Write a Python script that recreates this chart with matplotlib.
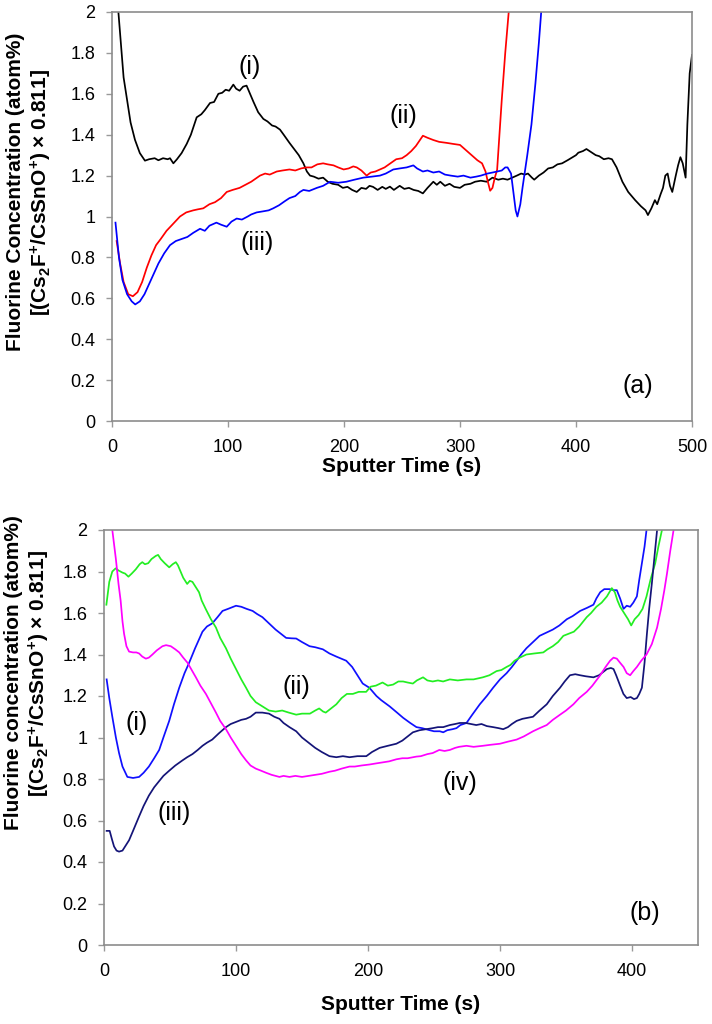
import matplotlib
matplotlib.use("Agg")
import matplotlib.pyplot as plt
from matplotlib.ticker import FuncFormatter, MultipleLocator

plt.rcParams['font.family'] = ['Liberation Sans', 'DejaVu Sans']
plt.rcParams['mathtext.fontset'] = 'custom'
plt.rcParams['mathtext.rm'] = 'Liberation Sans'
plt.rcParams['mathtext.bf'] = 'Liberation Sans:bold'
plt.rcParams['mathtext.it'] = 'Liberation Sans:italic'

# ---------------- Panel (a) data ----------------
a1_x = [3, 5.5, 8, 10, 12.6, 16, 19.8, 24, 28.4, 32, 36.8, 40, 44, 48, 50, 52.9, 56, 60, 64.4, 68, 73, 77, 80,
        84.5, 88, 91.7, 95, 98, 101, 104.6, 107, 110, 113, 116, 119, 122, 126, 130.5, 134, 138, 141, 144.8, 148,
        153, 157, 161, 165, 168, 170.7, 174, 178, 182, 186, 190, 195, 199, 203, 207, 211, 215, 219, 222, 225,
        229, 233, 236, 239.6, 243, 248, 252, 256, 260, 264, 268, 272, 277, 280, 283, 287, 291, 295, 300, 304,
        309, 313, 318, 323, 328, 333, 337, 341, 345, 349, 352.7, 356, 358.6, 362, 364, 368, 372, 376, 380, 384,
        388, 393, 397, 400, 402, 406, 409, 413, 417, 420, 424, 428, 431, 435, 440, 445, 451, 456, 460, 462, 465,
        468, 470, 473, 475, 477, 479, 481, 483, 486, 488, 490, 492, 494.5, 496, 498, 500]
a1_y = [2.25, 2.0, 1.82, 1.68, 1.585, 1.46, 1.375, 1.31, 1.273, 1.28, 1.285, 1.275, 1.285, 1.28, 1.285, 1.26,
        1.28, 1.31, 1.355, 1.40, 1.485, 1.50, 1.52, 1.555, 1.56, 1.60, 1.605, 1.62, 1.615, 1.645, 1.625, 1.615,
        1.635, 1.64, 1.60, 1.56, 1.51, 1.477, 1.465, 1.445, 1.44, 1.425, 1.40, 1.36, 1.33, 1.30, 1.26, 1.22, 1.20,
        1.195, 1.185, 1.19, 1.17, 1.16, 1.155, 1.14, 1.145, 1.13, 1.12, 1.14, 1.135, 1.15, 1.145, 1.13, 1.145,
        1.135, 1.146, 1.13, 1.15, 1.135, 1.14, 1.13, 1.125, 1.113, 1.14, 1.17, 1.155, 1.17, 1.15, 1.16, 1.145,
        1.14, 1.155, 1.16, 1.17, 1.175, 1.17, 1.19, 1.18, 1.185, 1.18, 1.19, 1.20, 1.21, 1.205, 1.21, 1.19, 1.18,
        1.20, 1.215, 1.235, 1.24, 1.255, 1.26, 1.276, 1.29, 1.30, 1.312, 1.32, 1.33, 1.315, 1.30, 1.295, 1.28,
        1.285, 1.28, 1.24, 1.17, 1.12, 1.08, 1.05, 1.03, 1.007, 1.04, 1.08, 1.06, 1.11, 1.14, 1.20, 1.21, 1.15,
        1.12, 1.20, 1.25, 1.29, 1.26, 1.19, 1.45, 1.70, 1.79]

a2_x = [4, 7, 10, 14, 18, 22, 26, 30, 34, 38, 42, 47, 52, 58.6, 64, 70, 74, 78.7, 84, 88.8, 94, 98.9, 104, 110,
        115, 120, 127.6, 132, 136, 142, 147, 153, 158, 163, 167.5, 172, 177, 182, 186, 191, 195, 199.7, 204, 208,
        211, 215, 219.5, 223, 227, 231, 235, 240, 245, 250, 254, 258, 262, 265, 268, 272, 277, 282, 288.5, 294,
        300, 305, 310, 315, 319, 322, 324, 326, 328, 330, 332, 334, 336, 339, 342, 344]
a2_y = [0.88, 0.77, 0.68, 0.62, 0.61, 0.63, 0.68, 0.75, 0.81, 0.86, 0.89, 0.93, 0.96, 1.0, 1.02, 1.03, 1.035,
        1.04, 1.06, 1.07, 1.09, 1.12, 1.13, 1.14, 1.155, 1.17, 1.20, 1.21, 1.205, 1.22, 1.225, 1.23, 1.225, 1.235,
        1.24, 1.24, 1.255, 1.26, 1.255, 1.25, 1.24, 1.23, 1.235, 1.245, 1.24, 1.225, 1.20, 1.215, 1.22, 1.23,
        1.24, 1.26, 1.28, 1.285, 1.30, 1.32, 1.345, 1.37, 1.395, 1.385, 1.374, 1.365, 1.36, 1.355, 1.35, 1.325,
        1.30, 1.275, 1.26, 1.22, 1.17, 1.126, 1.14, 1.19, 1.228, 1.40, 1.57, 1.80, 2.0, 2.2]

a3_x = [3, 6, 9, 13, 17, 20, 24, 28, 32, 36, 40, 45, 50, 55, 60, 65, 70, 75.9, 80, 84, 90, 94, 98.9, 103, 107.5,
        112, 117, 120, 124.7, 130, 135, 139, 144, 149, 153, 158, 162, 165, 170, 176.6, 182, 188, 195, 202, 209,
        216.6, 224, 231, 236, 242.5, 248, 254, 259.8, 263, 268, 272, 277, 282, 287, 292, 298, 303, 309, 314, 318,
        323.6, 328, 332, 336, 339, 341, 344, 346, 348, 349.5, 352, 354, 358, 361.6, 365, 368, 370, 372]
a3_y = [0.97, 0.80, 0.69, 0.62, 0.585, 0.57, 0.585, 0.62, 0.67, 0.72, 0.77, 0.82, 0.86, 0.88, 0.89, 0.90, 0.92,
        0.94, 0.93, 0.955, 0.97, 0.96, 0.95, 0.975, 0.99, 0.985, 1.0, 1.01, 1.02, 1.025, 1.03, 1.04, 1.055, 1.075,
        1.09, 1.10, 1.12, 1.13, 1.125, 1.14, 1.15, 1.17, 1.165, 1.17, 1.18, 1.19, 1.195, 1.20, 1.21, 1.23, 1.235,
        1.24, 1.25, 1.235, 1.22, 1.225, 1.215, 1.22, 1.205, 1.20, 1.195, 1.20, 1.19, 1.195, 1.20, 1.21, 1.215,
        1.22, 1.225, 1.24, 1.24, 1.21, 1.12, 1.03, 1.0, 1.06, 1.145, 1.30, 1.45, 1.65, 1.85, 2.0, 2.15]

# ---------------- Panel (b) data ----------------
b1_x = [2, 4, 6.3, 9, 11.4, 14, 17.7, 22, 26.6, 30, 34, 38, 41.8, 45, 49.4, 53, 57, 61, 64.5, 69, 74.6, 78, 82,
        86, 89.8, 94, 100, 104, 108, 112.6, 116, 120, 125, 130, 134, 138, 142, 145.6, 150, 155.7, 160, 165.8,
        170.8, 176, 183.5, 188, 192, 196, 201, 206.4, 210, 216.4, 222, 226.6, 232, 236.7, 241, 246.8, 250, 254.4,
        257, 260, 264, 267, 270, 274.6, 279, 284.7, 290, 294.8, 300, 305, 309, 312.6, 316, 320, 325, 330, 335,
        340, 345, 350.6, 355, 360.7, 366, 370.8, 373, 375.9, 379, 383, 386, 388.5, 391, 393.6, 396, 398.6, 401,
        403.7, 405.5, 407.5, 409.5, 411, 413]
b1_y = [1.28, 1.19, 1.10, 1.00, 0.925, 0.86, 0.81, 0.805, 0.81, 0.83, 0.86, 0.90, 0.94, 1.00, 1.08, 1.16, 1.24,
        1.31, 1.36, 1.43, 1.51, 1.535, 1.55, 1.58, 1.61, 1.62, 1.635, 1.63, 1.62, 1.61, 1.595, 1.58, 1.55, 1.52,
        1.50, 1.48, 1.478, 1.477, 1.46, 1.44, 1.435, 1.425, 1.405, 1.39, 1.37, 1.34, 1.30, 1.26, 1.24, 1.20, 1.18,
        1.15, 1.12, 1.095, 1.07, 1.05, 1.045, 1.035, 1.03, 1.03, 1.025, 1.035, 1.04, 1.045, 1.06, 1.07, 1.11,
        1.16, 1.20, 1.24, 1.28, 1.31, 1.34, 1.37, 1.40, 1.43, 1.46, 1.49, 1.505, 1.52, 1.54, 1.57, 1.585, 1.61,
        1.625, 1.64, 1.67, 1.70, 1.715, 1.715, 1.71, 1.71, 1.67, 1.62, 1.635, 1.63, 1.65, 1.68, 1.76, 1.84, 1.92,
        2.0, 2.1]

b2_x = [1.8, 4, 6.3, 8.8, 11, 13.9, 16, 18.5, 21, 24, 27, 29, 31, 33.5, 36, 39.2, 41, 43, 46, 49.4, 52, 54.4, 56,
        58, 60, 63, 65, 67, 69, 72, 74, 77, 81, 84.8, 88, 92.4, 96, 100, 104, 107.6, 111, 115, 120, 125, 130, 135,
        140, 145.6, 150, 156, 160, 163, 166, 168, 172, 176, 180, 184, 188.5, 193, 198.6, 202, 206, 211, 215, 219,
        223, 226.6, 230, 234, 237, 241.7, 245, 249, 253, 256.9, 262, 268, 274.6, 280, 287, 292, 297.4, 301, 305,
        308, 311, 315, 320, 326, 332.8, 336, 340, 344, 348, 352, 356, 360, 365.7, 369, 373, 377, 381, 384.7, 387,
        389, 391, 394, 397, 399.4, 402, 405, 408, 411, 414, 417.6, 420, 422.7, 425]
b2_y = [1.64, 1.75, 1.80, 1.815, 1.805, 1.795, 1.79, 1.775, 1.79, 1.81, 1.835, 1.845, 1.835, 1.84, 1.86, 1.875,
        1.88, 1.86, 1.84, 1.82, 1.835, 1.845, 1.83, 1.80, 1.77, 1.74, 1.755, 1.75, 1.73, 1.70, 1.66, 1.62, 1.57,
        1.53, 1.48, 1.43, 1.38, 1.33, 1.28, 1.24, 1.20, 1.17, 1.15, 1.13, 1.125, 1.13, 1.12, 1.11, 1.115, 1.115,
        1.13, 1.14, 1.125, 1.12, 1.14, 1.16, 1.19, 1.21, 1.21, 1.22, 1.22, 1.245, 1.25, 1.265, 1.25, 1.255, 1.27,
        1.27, 1.265, 1.26, 1.275, 1.29, 1.275, 1.27, 1.275, 1.27, 1.28, 1.275, 1.28, 1.28, 1.29, 1.30, 1.32, 1.325,
        1.34, 1.35, 1.37, 1.385, 1.40, 1.405, 1.41, 1.425, 1.44, 1.46, 1.49, 1.50, 1.51, 1.535, 1.58, 1.60, 1.63,
        1.65, 1.68, 1.72, 1.70, 1.66, 1.63, 1.60, 1.57, 1.54, 1.57, 1.59, 1.62, 1.68, 1.76, 1.84, 1.92, 2.0, 2.1]

b3_x = [2, 4.3, 6, 7.6, 9.5, 11.4, 14, 16.5, 19, 22, 26.6, 30, 34, 38, 41.8, 45, 49.4, 54, 59.5, 63, 67, 71, 74.6,
        78, 82, 87, 92.4, 96, 100, 104, 107.6, 111, 115, 120, 125, 129, 132.9, 136, 140.5, 145.6, 150, 155, 160,
        165, 170.8, 176, 181, 186, 192, 198.7, 203, 208.8, 215, 221.5, 226, 230, 234, 239, 244, 249, 253, 257, 262,
        266, 269.5, 274, 278, 282, 286, 290, 294.8, 299, 302.4, 306, 309, 312.6, 317, 321, 325, 330, 335.4, 340,
        345.5, 349, 353, 357, 360.7, 365, 370.8, 375, 378, 381, 384, 386, 388, 391, 393.5, 396, 399, 401.5, 403.7,
        405.5, 407.5, 409.5, 411.3, 413, 415, 417, 419, 421]
b3_y = [0.55, 0.55, 0.51, 0.475, 0.455, 0.45, 0.455, 0.48, 0.505, 0.55, 0.62, 0.67, 0.72, 0.76, 0.79, 0.815, 0.84,
        0.865, 0.89, 0.905, 0.92, 0.94, 0.96, 0.975, 0.99, 1.02, 1.05, 1.065, 1.075, 1.085, 1.09, 1.10, 1.12, 1.12,
        1.115, 1.10, 1.09, 1.07, 1.05, 1.03, 1.00, 0.975, 0.95, 0.93, 0.91, 0.905, 0.91, 0.905, 0.91, 0.91, 0.93,
        0.95, 0.96, 0.97, 0.985, 1.005, 1.025, 1.035, 1.04, 1.045, 1.05, 1.05, 1.06, 1.065, 1.07, 1.07, 1.065,
        1.06, 1.065, 1.055, 1.05, 1.045, 1.04, 1.05, 1.065, 1.08, 1.09, 1.095, 1.10, 1.13, 1.16, 1.20, 1.24, 1.27,
        1.30, 1.305, 1.30, 1.295, 1.29, 1.30, 1.315, 1.33, 1.335, 1.33, 1.30, 1.25, 1.21, 1.19, 1.195, 1.185,
        1.19, 1.21, 1.24, 1.36, 1.50, 1.62, 1.74, 1.87, 2.0, 2.12]

b4_x = [4, 6.3, 9, 11, 12.6, 14, 15.2, 17, 19, 22, 24.5, 26.6, 29, 31.7, 34, 36.7, 40, 44.3, 47, 50.6, 54, 57, 60,
        63.3, 66, 69.6, 73, 77.2, 81, 84.8, 88, 92.4, 96, 100, 104, 107.6, 111, 115, 119, 122.8, 127, 132.9, 136,
        140.5, 145, 150, 155, 160, 165, 170.8, 175, 180, 186, 190, 195, 201.3, 206, 211, 216, 221.5, 226, 230,
        236.7, 240, 245, 249, 254, 258, 262, 266, 269, 274.6, 280, 287, 293, 300, 306, 312.6, 318, 325, 330, 335.4,
        340, 345.5, 350, 355.6, 360, 365.7, 370, 375.9, 380, 383.4, 386, 388.5, 391, 393.6, 396, 398.6, 401, 403.7,
        407, 411, 415, 419, 422, 424.5, 426.5, 429, 431.5, 434]
b4_y = [2.2, 2.0, 1.86, 1.74, 1.66, 1.56, 1.50, 1.44, 1.414, 1.41, 1.41, 1.405, 1.39, 1.38, 1.385, 1.40, 1.42,
        1.44, 1.445, 1.44, 1.425, 1.41, 1.385, 1.36, 1.33, 1.29, 1.25, 1.21, 1.165, 1.12, 1.08, 1.04, 1.00, 0.96,
        0.92, 0.89, 0.865, 0.85, 0.84, 0.83, 0.82, 0.81, 0.815, 0.81, 0.815, 0.81, 0.815, 0.82, 0.825, 0.835, 0.84,
        0.85, 0.86, 0.86, 0.865, 0.87, 0.875, 0.88, 0.885, 0.895, 0.90, 0.90, 0.908, 0.91, 0.92, 0.925, 0.94,
        0.935, 0.94, 0.95, 0.955, 0.96, 0.955, 0.96, 0.965, 0.97, 0.98, 0.99, 1.005, 1.03, 1.045, 1.06, 1.085,
        1.11, 1.13, 1.16, 1.19, 1.22, 1.25, 1.30, 1.34, 1.37, 1.385, 1.38, 1.36, 1.34, 1.31, 1.30, 1.32, 1.34,
        1.37, 1.40, 1.45, 1.53, 1.62, 1.71, 1.79, 1.90, 2.0, 2.12]

yticks = [0, 0.2, 0.4, 0.6, 0.8, 1.0, 1.2, 1.4, 1.6, 1.8, 2.0]

W, H = 712, 1024
fig = plt.figure(figsize=(W / 100, H / 100), dpi=100)

def box(l, r, t, b):
    return [l / W, 1 - b / H, (r - l) / W, (b - t) / H]

ax1 = fig.add_axes(box(112, 692, 12, 421))
ax2 = fig.add_axes(box(104, 698, 530, 945))

lw = 1.25
ax1.plot(a1_x, a1_y, color='black', lw=lw)
ax1.plot(a2_x, a2_y, color='#ff0000', lw=lw)
ax1.plot(a3_x, a3_y, color='#0000ff', lw=lw)

ax2.plot(b1_x, b1_y, color='#1010ff', lw=lw)
ax2.plot(b2_x, b2_y, color='#22ee22', lw=lw)
ax2.plot(b3_x, b3_y, color='#141478', lw=lw)
ax2.plot(b4_x, b4_y, color='#ff00ff', lw=lw)

fmt = FuncFormatter(lambda v, p: f'{v:g}')
for ax, xmax in ((ax1, 500), (ax2, 450)):
    ax.set_xlim(0, xmax)
    ax.set_ylim(0, 2)
    ax.set_yticks(yticks)
    ax.yaxis.set_major_formatter(fmt)
    ax.xaxis.set_major_locator(MultipleLocator(100))
    ax.tick_params(direction='out', length=4, width=1, color='#999999',
                   labelsize=13, labelcolor='black')
    ax.tick_params(axis='x', pad=9)
    ax.tick_params(axis='y', pad=8)
    for s in ax.spines.values():
        s.set_color('#8c8c8c')
        s.set_linewidth(1.2)

fs = 18
ax1.text(119, 1.73, '(i)', fontsize=fs, ha='center', va='center')
ax1.text(251, 1.49, '(ii)', fontsize=fs, ha='center', va='center')
ax1.text(125, 0.87, '(iii)', fontsize=fs, ha='center', va='center')
ax1.text(453, 0.17, '(a)', fontsize=fs, ha='center', va='center')

ax2.text(25, 1.07, '(i)', fontsize=fs, ha='center', va='center')
ax2.text(145.5, 1.245, '(ii)', fontsize=fs, ha='center', va='center')
ax2.text(53, 0.635, '(iii)', fontsize=fs, ha='center', va='center')
ax2.text(269.5, 0.78, '(iv)', fontsize=fs, ha='center', va='center')
ax2.text(410, 0.154, '(b)', fontsize=fs, ha='center', va='center')

chem = r"[(Cs$_\mathbf{2}$F$^\mathbf{+}$/CsSnO$^\mathbf{+}$) × 0.811]"
fig.text(30 / W, 1 - 192 / H, "Fluorine Concentration (atom%)\n" + chem, rotation=90,
         ha='center', va='center', ma='center', fontsize=15, fontweight='bold', linespacing=1.25)
fig.text(28 / W, 1 - 673 / H, "Fluorine concentration (atom%)\n" + chem, rotation=90,
         ha='center', va='center', ma='center', fontsize=15, fontweight='bold', linespacing=1.25)

fig.text(402 / W, 1 - 467 / H, "Sputter Time (s)", ha='center', va='center', fontsize=15, fontweight='bold')
fig.text(401 / W, 1 - 1005 / H, "Sputter Time (s)", ha='center', va='center', fontsize=15, fontweight='bold')

fig.savefig('out.png', dpi=100)
